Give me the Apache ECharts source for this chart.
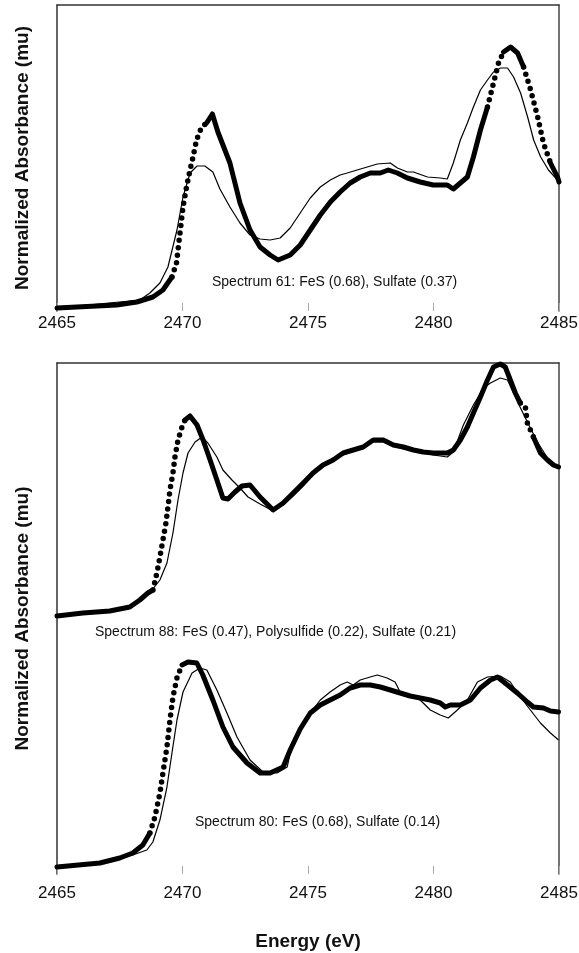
<!DOCTYPE html>
<html>
<head>
<meta charset="utf-8">
<script src="https://cdn.jsdelivr.net/npm/echarts/dist/echarts.min.js"></script>
<style>
  html, body { margin: 0; padding: 0; background: #fff; }
  #chart { width: 579px; height: 953px; }
</style>
</head>
<body>
<div id="chart"></div>
<script>
const xTicks = [2465, 2470, 2475, 2480, 2485]

// Spectrum 61 (top panel), arbitrary absorbance units
const s61DataE = [2465.0, 2467.38, 2468.18, 2468.82, 2469.22, 2469.58, 2469.76, 2469.90, 2470.02, 2470.16, 2470.30, 2470.42, 2470.56, 2470.76, 2470.96, 2471.19, 2471.41, 2471.89, 2472.29, 2472.69, 2473.09, 2473.49, 2473.81, 2474.29, 2474.69, 2475.09, 2475.49, 2475.89, 2476.28, 2476.68, 2477.08, 2477.48, 2477.88, 2478.20, 2478.56, 2478.96, 2479.47, 2479.99, 2480.55, 2480.79, 2481.07, 2481.35, 2481.59, 2481.87, 2482.15, 2482.39, 2482.59, 2482.79, 2483.07, 2483.35, 2483.59, 2483.87, 2484.15, 2484.38, 2484.66, 2484.94, 2485.0]
const s61DataV = [2, 5, 8, 13, 20, 33, 47, 77, 103, 123, 140, 153, 170, 183, 187, 196, 178, 147, 107, 80, 63, 55, 50, 55, 65, 80, 95, 108, 118, 127, 133, 137, 137, 140, 137, 132, 128, 125, 125, 121, 127, 133, 153, 180, 203, 227, 247, 258, 263, 257, 243, 220, 193, 167, 147, 133, 128]
const s61FitE = [2465.0, 2467.90, 2468.30, 2468.70, 2469.10, 2469.42, 2469.78, 2470.02, 2470.30, 2470.58, 2470.89, 2471.21, 2471.49, 2471.89, 2472.29, 2472.69, 2473.09, 2473.49, 2473.89, 2474.29, 2474.69, 2475.09, 2475.49, 2475.89, 2476.28, 2476.56, 2476.96, 2477.36, 2477.76, 2478.28, 2478.56, 2478.96, 2479.20, 2479.76, 2480.27, 2480.55, 2480.79, 2481.07, 2481.35, 2481.59, 2481.87, 2482.15, 2482.39, 2482.67, 2482.95, 2483.19, 2483.47, 2483.75, 2483.99, 2484.27, 2484.58, 2484.94, 2485.0]
const s61FitV = [2, 9, 10, 17, 27, 43, 80, 113, 137, 144, 144, 138, 121, 103, 87, 75, 71, 70, 72, 82, 97, 112, 123, 130, 135, 137, 140, 143, 146, 147, 142, 138, 138, 133, 132, 131, 147, 170, 187, 203, 220, 230, 238, 242, 242, 233, 217, 193, 170, 153, 140, 130, 127]

// Spectrum 88 (bottom panel, upper pair)
const s88DataE = [2465.0, 2466.03, 2467.10, 2467.90, 2468.30, 2468.62, 2468.82, 2468.98, 2469.10, 2469.22, 2469.34, 2469.42, 2469.50, 2469.62, 2469.70, 2469.82, 2469.98, 2470.10, 2470.30, 2470.58, 2470.82, 2471.10, 2471.37, 2471.61, 2471.81, 2472.09, 2472.37, 2472.69, 2473.09, 2473.61, 2474.01, 2474.41, 2474.81, 2475.20, 2475.60, 2476.00, 2476.40, 2476.80, 2477.20, 2477.60, 2478.00, 2478.40, 2478.80, 2479.20, 2479.59, 2479.99, 2480.55, 2480.79, 2481.07, 2481.35, 2481.59, 2481.87, 2482.15, 2482.39, 2482.66, 2482.86, 2483.06, 2483.26, 2483.46, 2483.66, 2483.74, 2483.98, 2484.26, 2484.54, 2484.78, 2484.98]
const s88DataV = [258, 261, 263, 267, 274, 281, 284, 301, 317, 334, 351, 367, 384, 401, 417, 434, 447, 454, 458, 449, 434, 414, 394, 376, 375, 382, 388, 389, 377, 364, 371, 381, 391, 401, 409, 414, 421, 424, 427, 434, 434, 429, 427, 424, 422, 421, 421, 424, 434, 447, 461, 477, 494, 507, 510, 507, 494, 481, 471, 467, 451, 437, 421, 414, 409, 407]
const s88FitE = [2465.0, 2466.03, 2467.10, 2467.90, 2468.30, 2468.70, 2469.10, 2469.38, 2469.62, 2469.82, 2470.02, 2470.22, 2470.50, 2470.78, 2471.01, 2471.37, 2471.61, 2471.97, 2472.29, 2472.61, 2473.09, 2473.61, 2474.01, 2474.41, 2474.81, 2475.20, 2475.60, 2476.00, 2476.40, 2476.80, 2477.20, 2477.60, 2478.00, 2478.40, 2478.80, 2479.20, 2479.59, 2479.99, 2480.55, 2480.79, 2481.19, 2481.59, 2481.99, 2482.27, 2482.66, 2482.95, 2483.35, 2483.74, 2484.14, 2484.54, 2484.94]
const s88FitV = [258, 261, 263, 267, 274, 281, 294, 311, 341, 374, 401, 421, 432, 437, 431, 417, 404, 394, 386, 377, 370, 363, 369, 378, 388, 399, 408, 416, 419, 423, 428, 432, 432, 428, 425, 424, 421, 419, 417, 422, 449, 469, 486, 491, 496, 494, 472, 452, 432, 416, 407]

// Spectrum 80 (bottom panel, lower pair)
const s80DataE = [2465.0, 2466.71, 2467.50, 2468.02, 2468.42, 2468.70, 2468.90, 2469.10, 2469.22, 2469.38, 2469.50, 2469.62, 2469.78, 2469.98, 2470.22, 2470.57, 2470.81, 2471.21, 2471.61, 2472.01, 2472.57, 2473.09, 2473.49, 2474.01, 2474.29, 2474.69, 2475.09, 2475.49, 2475.88, 2476.28, 2476.68, 2477.08, 2477.48, 2477.88, 2478.28, 2478.67, 2479.07, 2479.47, 2479.87, 2480.27, 2480.47, 2480.67, 2481.07, 2481.47, 2481.87, 2482.27, 2482.55, 2482.95, 2483.34, 2483.74, 2483.98, 2484.38, 2484.66, 2484.98]
const s80DataV = [7, 11, 16, 21, 29, 41, 57, 81, 101, 127, 154, 177, 196, 209, 212, 211, 199, 174, 147, 127, 111, 101, 101, 107, 124, 145, 161, 169, 174, 179, 186, 189, 189, 187, 184, 181, 178, 176, 174, 171, 167, 169, 169, 174, 186, 194, 197, 189, 181, 172, 167, 166, 163, 162]
const s80FitE = [2465.0, 2466.71, 2468.02, 2468.58, 2468.82, 2469.10, 2469.38, 2469.58, 2469.78, 2470.02, 2470.38, 2470.69, 2470.97, 2471.37, 2471.77, 2472.17, 2472.69, 2473.21, 2473.77, 2474.17, 2474.29, 2474.69, 2475.09, 2475.49, 2475.88, 2476.28, 2476.56, 2476.80, 2477.08, 2477.48, 2477.76, 2478.15, 2478.47, 2478.67, 2479.07, 2479.47, 2479.87, 2480.27, 2480.59, 2480.95, 2481.35, 2481.75, 2482.15, 2482.66, 2483.06, 2483.46, 2483.86, 2484.26, 2484.66, 2484.98]
const s80FitV = [7, 11, 19, 24, 32, 54, 87, 121, 154, 182, 201, 206, 204, 184, 161, 137, 114, 102, 101, 107, 121, 144, 161, 174, 182, 189, 192, 189, 194, 197, 199, 196, 192, 182, 179, 174, 164, 159, 156, 164, 174, 192, 197, 198, 192, 177, 164, 151, 141, 134]

// energy ranges where the measured points spread apart into separate dots
const s61Steep = [[2469.58, 2470.96], [2482.15, 2482.79], [2483.59, 2484.66]]
const s88Steep = [[2468.82, 2470.10], [2483.46, 2483.98]]
const s80Steep = [[2468.70, 2469.98]]

const labels = [
  'Spectrum 61: FeS (0.68), Sulfate (0.37)',
  'Spectrum 88: FeS (0.47), Polysulfide (0.22), Sulfate (0.21)',
  'Spectrum 80: FeS (0.68), Sulfate (0.14)'
]

const font = 'Liberation Sans, Arial, sans-serif'
const inside = (x, ranges, strict) => ranges.some(r => strict ? (x > r[0] && x < r[1]) : (x >= r[0] && x <= r[1]))

function bottomAxis (grid, margin, withName) {
  return {
    type: 'value', gridIndex: grid, position: 'bottom',
    min: 2465, max: 2485, interval: 5,
    axisLine: { show: false, onZero: false },
    axisTick: { show: true, inside: true, length: 8, lineStyle: { color: '#aaa' } },
    axisLabel: { color: '#111', fontSize: 17, fontFamily: font, margin: margin, formatter: v => String(v) },
    splitLine: { show: false },
    name: withName ? 'Energy (eV)' : '',
    nameLocation: 'middle', nameGap: 58,
    nameTextStyle: { color: '#111', fontSize: 19, fontWeight: 'bold', fontFamily: font }
  }
}
function frameX (grid) {
  return {
    type: 'value', gridIndex: grid, position: 'top', min: 2465, max: 2485,
    axisLine: { show: true, onZero: false, lineStyle: { color: '#333', width: 1.5 } },
    axisTick: { show: false }, axisLabel: { show: false }, splitLine: { show: false }
  }
}
function leftAxis (grid, min, max) {
  return {
    type: 'value', gridIndex: grid, position: 'left', min: min, max: max,
    axisLine: { show: true, onZero: false, lineStyle: { color: '#333', width: 1.5 } },
    axisTick: { show: false }, axisLabel: { show: false }, splitLine: { show: false },
    name: 'Normalized Absorbance (mu)', nameLocation: 'middle', nameGap: 25,
    nameTextStyle: { color: '#111', fontSize: 19, fontWeight: 'bold', fontFamily: font }
  }
}
function rightAxis (grid, min, max) {
  return {
    type: 'value', gridIndex: grid, position: 'right', min: min, max: max,
    axisLine: { show: true, onZero: false, lineStyle: { color: '#444', width: 1.5 } },
    axisTick: { show: false }, axisLabel: { show: false }, splitLine: { show: false }
  }
}
// measured spectrum: solid thick line where points overlap, round dots where they spread
function dataSeries (grid, e, v, steep) {
  return [{
    type: 'line', xAxisIndex: grid * 2, yAxisIndex: grid * 2,
    data: e.map((x, i) => [x, inside(x, steep, true) ? null : v[i]]),
    showSymbol: false, lineStyle: { color: '#000', width: 5, cap: 'round', join: 'round' }, z: 3
  }, {
    type: 'line', xAxisIndex: grid * 2, yAxisIndex: grid * 2,
    data: e.map((x, i) => [x, inside(x, steep, false) ? v[i] : null]),
    showSymbol: false, lineStyle: { color: '#000', width: 5.5, type: [0, 7.5], cap: 'round' }, z: 3
  }]
}
function fitSeries (grid, e, v) {
  return {
    type: 'line', xAxisIndex: grid * 2, yAxisIndex: grid * 2,
    data: e.map((x, i) => [x, v[i]]),
    showSymbol: false, lineStyle: { color: '#000', width: 1.2 }, z: 4
  }
}

const option = {
  backgroundColor: '#fff',
  animation: false,
  grid: [
    { left: 57, top: 5, width: 502, height: 306, containLabel: false, outerBoundsMode: 'none' },
    { left: 57, top: 363, width: 502, height: 511, containLabel: false, outerBoundsMode: 'none' }
  ],
  xAxis: [bottomAxis(0, 4, false), frameX(0), bottomAxis(1, 11, true), frameX(1)],
  yAxis: [leftAxis(0, -1, 305), rightAxis(0, -1, 305), leftAxis(1, 0, 511), rightAxis(1, 0, 511)],
  series: [
    ...dataSeries(0, s61DataE, s61DataV, s61Steep),
    fitSeries(0, s61FitE, s61FitV),
    ...dataSeries(1, s88DataE, s88DataV, s88Steep),
    fitSeries(1, s88FitE, s88FitV),
    ...dataSeries(1, s80DataE, s80DataV, s80Steep),
    fitSeries(1, s80FitE, s80FitV)
  ],
  graphic: [
    { type: 'text', left: 212, top: 275, style: { text: labels[0], font: '14px ' + font, fill: '#111' } },
    { type: 'text', left: 95, top: 625, style: { text: labels[1], font: '14px ' + font, fill: '#111' } },
    { type: 'text', left: 195, top: 815, style: { text: labels[2], font: '14px ' + font, fill: '#111' } }
  ]
}

const myChart = echarts.init(document.getElementById('chart'))
myChart.setOption(option)
</script>
</body>
</html>
